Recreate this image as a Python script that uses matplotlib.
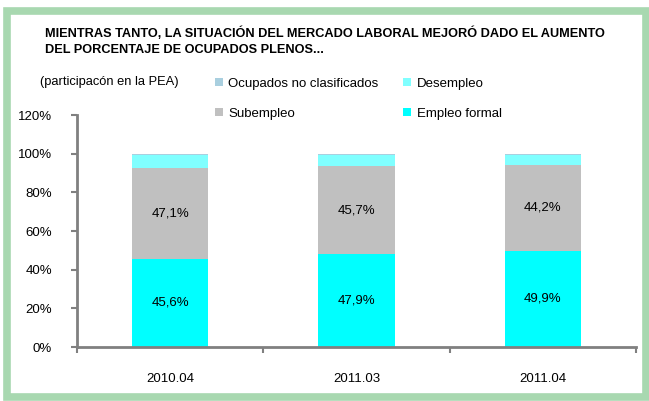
import matplotlib.pyplot as plt
import matplotlib.patches as patches

plt.rcParams['font.family'] = ['Liberation Sans', 'DejaVu Sans']

periodos = ['2010.04', '2011.03', '2011.04']
empleo_formal = [45.6, 47.9, 49.9]
subempleo = [47.1, 45.7, 44.2]
desempleo = [6.6, 5.7, 5.2]
no_clasificados = [0.5, 0.5, 0.5]

c_formal = '#00FFFF'
c_sub = '#C0C0C0'
c_des = '#80FFFF'
c_nc = '#A9CFDF'

fig = plt.figure(figsize=(6.49, 4.01), dpi=100)
ax = fig.add_axes([77/649, 54/401, 559/649, 232/401])

x = range(len(periodos))
w = 0.41
b1 = ax.bar(x, empleo_formal, w, color=c_formal, label='Empleo formal')
bot2 = empleo_formal
b2 = ax.bar(x, subempleo, w, bottom=bot2, color=c_sub, label='Subempleo')
bot3 = [a + b for a, b in zip(empleo_formal, subempleo)]
b3 = ax.bar(x, desempleo, w, bottom=bot3, color=c_des, label='Desempleo')
bot4 = [a + b for a, b in zip(bot3, desempleo)]
b4 = ax.bar(x, no_clasificados, w, bottom=bot4, color=c_nc, label='Ocupados no clasificados')

for i in x:
    ax.text(i, empleo_formal[i] / 2, f'{empleo_formal[i]:.1f}%'.replace('.', ','),
            ha='center', va='center', fontsize=9.5)
    ax.text(i, empleo_formal[i] + subempleo[i] / 2, f'{subempleo[i]:.1f}%'.replace('.', ','),
            ha='center', va='center', fontsize=9.5)

ax.set_xlim(-0.5, 2.5)
ax.set_ylim(0, 120)
ax.set_yticks(range(0, 121, 20))
ax.set_yticklabels([f'{v}%' for v in range(0, 121, 20)], fontsize=9.5)
ax.set_xticks([-0.5, 0.5, 1.5, 2.5])
ax.set_xticklabels([])
ax.set_xticks(list(x), minor=True)
ax.set_xticklabels(periodos, minor=True, fontsize=9.5)
ax.tick_params(axis='x', which='minor', length=0, pad=19)
ax.tick_params(axis='both', which='major', length=4, width=1.5, color='#808080')
ax.tick_params(axis='y', pad=14)
for s in ['top', 'right']:
    ax.spines[s].set_visible(False)
for s in ['left', 'bottom']:
    ax.spines[s].set_color('#808080')
    ax.spines[s].set_linewidth(2)

handles = [b4, b2, b3, b1]
labels = ['Ocupados no clasificados', 'Subempleo', 'Desempleo', 'Empleo formal']
fig.legend(handles, labels, ncol=2, loc='upper left', bbox_to_anchor=(203/649, 1 - 66/401),
           frameon=False, fontsize=9.5, handlelength=0.6, handleheight=0.6,
           handletextpad=0.4, columnspacing=1.9, labelspacing=1.35)

fig.text(45/649, 1 - 41/401,
         'MIENTRAS TANTO, LA SITUACIÓN DEL MERCADO LABORAL MEJORÓ DADO EL AUMENTO\nDEL PORCENTAJE DE OCUPADOS PLENOS...',
         fontsize=9.2, fontweight='bold', va='center', ha='left', linespacing=1.45)
fig.text(40/649, 1 - 82/401, '(participacón en la PEA)', fontsize=9.3, va='center')

border = patches.Rectangle((6.5/649, 4/401), 639/649, 386/401, transform=fig.transFigure,
                           fill=False, edgecolor='#A8D8B0', linewidth=5.5)
fig.patches.append(border)

fig.savefig('out.png', dpi=100)
